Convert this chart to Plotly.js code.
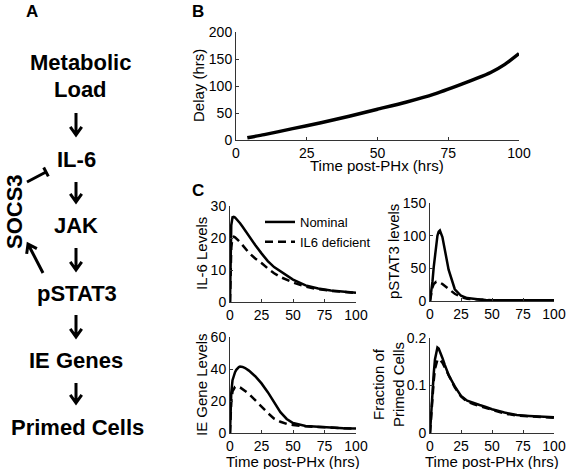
<!DOCTYPE html>
<html><head><meta charset="utf-8">
<script src="https://cdn.plot.ly/plotly-3.0.1.min.js"></script>
<style>
html,body{margin:0;padding:0;background:#fff}
#wrap{position:relative;width:567px;height:469px}
#chart,#overlay{position:absolute;left:0;top:0;width:567px;height:469px}
#overlay{pointer-events:none}
</style>
</head><body><div id="wrap"><div id="chart"></div><div id="overlay"></div></div>
<script>
// ---------- data ----------
const timeB  = [4, 10, 20, 30, 40, 50, 60, 70, 80, 85, 90, 95, 100];
const delayB = [4, 10, 21, 32, 44, 57, 70, 85, 104, 114, 125, 140, 160];

const timeC = [0, 1, 2, 3, 4, 5, 6, 7, 8, 10, 12, 15, 20, 25, 30, 35, 40, 45, 50, 60, 70, 80, 90, 100];
const il6Nominal    = [0, 24, 26.5, 26.6, 26.4, 26.0, 25.6, 25.1, 24.6, 23.5, 22.3, 20.5, 17.8, 15.2, 12.8, 10.9, 9.6, 8.2, 7.0, 5.2, 4.2, 3.6, 3.2, 2.9];
const il6Deficient  = [0, 17, 20.2, 20.4, 20.2, 19.9, 19.5, 19.1, 18.7, 17.8, 16.8, 15.4, 13.6, 12.2, 10.5, 9.0, 7.8, 6.9, 6.1, 4.8, 4.0, 3.5, 3.1, 2.8];
const pstat3Nominal   = [0, 12, 30, 52, 72, 88, 100, 106, 108, 98, 80, 48, 18, 8, 4.5, 3, 2.2, 1.7, 1.4, 1.1, 1, 1, 1, 1];
const pstat3Deficient = [0, 12, 21, 26, 28.5, 29.5, 29.5, 29, 28.3, 26, 23.5, 18.5, 11, 6, 3.5, 2.5, 1.8, 1.5, 1.3, 1.1, 1, 1, 1, 1];
const ieNominal    = [0, 25, 33, 36, 38, 39.5, 40.5, 41.2, 41.5, 41.3, 40.6, 39, 35.5, 31, 25.5, 19, 13, 8.8, 6.2, 4.4, 3.8, 3.3, 3.0, 2.8];
const ieDeficient  = [0, 20, 26, 28, 28.8, 29, 29, 28.8, 28.5, 27.5, 26.3, 24.5, 20.5, 16.3, 12.5, 9, 7, 5.7, 5.0, 4.2, 3.7, 3.3, 3.0, 2.8];
const primedNominal   = [0, 0.05, 0.09, 0.125, 0.155, 0.172, 0.18, 0.178, 0.172, 0.158, 0.143, 0.122, 0.098, 0.078, 0.068, 0.063, 0.059, 0.055, 0.05, 0.043, 0.038, 0.036, 0.034, 0.033];
const primedDeficient = [0, 0.045, 0.08, 0.11, 0.135, 0.148, 0.154, 0.156, 0.154, 0.148, 0.138, 0.12, 0.096, 0.077, 0.066, 0.061, 0.057, 0.053, 0.048, 0.041, 0.037, 0.035, 0.033, 0.032];

const seriesNames = ['Nominal', 'IL6 deficient'];
const xTicks = [0, 25, 50, 75, 100];

// ---------- helpers ----------
const W = 567, H = 469;
const fx = p => p / W, fy = p => 1 - p / H;
const FONT = 'Liberation Sans, Arial, sans-serif';

function axis(extra) {
  return Object.assign({
    showgrid: false, zeroline: false, showline: true, linecolor: '#333', linewidth: 1,
    ticks: 'inside', ticklen: 3, tickcolor: '#333', tickwidth: 1, automargin: false,
    ticklabeloverflow: 'allow',
    tickfont: {family: FONT, size: 14, color: '#000'}, fixedrange: true
  }, extra);
}
function xdom(a, b) { return [fx(a), fx(b)]; }
function ydom(top, bot) { return [fy(bot), fy(top)]; }

// ---------- main chart: panels B and C ----------
const traces = [];
traces.push({x: timeB, y: delayB, xaxis: 'x', yaxis: 'y', mode: 'lines',
  line: {color: '#000', width: 3.5, shape: 'spline', smoothing: 0.6}, showlegend: false});
const panels = [
  [il6Nominal, il6Deficient, 2],
  [pstat3Nominal, pstat3Deficient, 3],
  [ieNominal, ieDeficient, 4],
  [primedNominal, primedDeficient, 5]
];
panels.forEach(([nom, def, k], i) => {
  traces.push({x: timeC, y: nom, xaxis: 'x' + k, yaxis: 'y' + k, mode: 'lines', name: seriesNames[0],
    line: {color: '#000', width: 2.5}, showlegend: i === 0});
  traces.push({x: timeC, y: def, xaxis: 'x' + k, yaxis: 'y' + k, mode: 'lines', name: seriesNames[1],
    line: {color: '#000', width: 2.5, dash: '8px,5px'}, showlegend: i === 0});
});

const layout = {
  width: W, height: H, margin: {l: 0, r: 0, t: 0, b: 0},
  paper_bgcolor: '#fff', plot_bgcolor: 'rgba(0,0,0,0)', font: {family: FONT, color: '#000'},
  xaxis:  axis({domain: xdom(236, 519), range: [0, 100], tickvals: xTicks, anchor: 'y'}),
  yaxis:  axis({domain: ydom(32, 140), range: [0, 200], dtick: 50, anchor: 'x'}),
  xaxis2: axis({domain: xdom(230, 356), range: [0, 100], tickvals: xTicks, anchor: 'y2'}),
  yaxis2: axis({domain: ydom(206, 302), range: [0, 30], dtick: 10, anchor: 'x2'}),
  xaxis3: axis({domain: xdom(430, 554), range: [0, 100], tickvals: xTicks, anchor: 'y3'}),
  yaxis3: axis({domain: ydom(203, 301), range: [0, 150], dtick: 50, anchor: 'x3'}),
  xaxis4: axis({domain: xdom(230, 356), range: [0, 100], tickvals: xTicks, anchor: 'y4'}),
  yaxis4: axis({domain: ydom(337, 433), range: [0, 60], dtick: 20, anchor: 'x4'}),
  xaxis5: axis({domain: xdom(430, 554), range: [0, 100], tickvals: xTicks, anchor: 'y5'}),
  yaxis5: axis({domain: ydom(338, 433), range: [0, 0.2], dtick: 0.1, anchor: 'x5'}),
  showlegend: true,
  legend: {x: fx(260), y: fy(207), xanchor: 'left', yanchor: 'top', bgcolor: 'rgba(0,0,0,0)',
    font: {family: FONT, size: 13}, itemwidth: 30}
};
Plotly.newPlot('chart', traces, layout, {displayModeBar: false, staticPlot: true});

// ---------- overlay: diagram (panel A), panel letters, axis titles ----------
const shapes = [];
function pathOf(pts) { return pts.map(s => (s[0] === 'M' ? 'M' : 'L') + fx(s[1]).toFixed(5) + ',' + fy(s[2]).toFixed(5)).join(' '); }
function arrow(x1, y1, x2, y2) {
  const dx = x1 - x2, dy = y1 - y2, L = Math.hypot(dx, dy);
  const ux = dx / L, uy = dy / L, a = 35 * Math.PI / 180, len = 10;
  const r = s => [ux * Math.cos(s * a) - uy * Math.sin(s * a), ux * Math.sin(s * a) + uy * Math.cos(s * a)];
  const p1 = r(1), p2 = r(-1);
  shapes.push({type: 'path', xref: 'paper', yref: 'paper', line: {color: '#000', width: 3},
    path: pathOf([['M', x1, y1], ['L', x2, y2], ['M', x2 + p1[0] * len, y2 + p1[1] * len], ['L', x2, y2], ['L', x2 + p2[0] * len, y2 + p2[1] * len]])});
}
function inhibit(x1, y1, x2, y2) {
  const dx = x2 - x1, dy = y2 - y1, L = Math.hypot(dx, dy);
  const nx = -dy / L * 5, ny = dx / L * 5;
  shapes.push({type: 'path', xref: 'paper', yref: 'paper', line: {color: '#000', width: 3},
    path: pathOf([['M', x1, y1], ['L', x2, y2], ['M', x2 - nx, y2 - ny], ['L', x2 + nx, y2 + ny]])});
}
[[113, 135], [182, 202], [248, 270], [315, 337], [383, 403]].forEach(([a, b]) => arrow(76, a, 76, b));
inhibit(27, 182, 46, 172);
arrow(43, 273, 28, 244);

const annotations = [];
function txt(text, x, y, size, opts) {
  annotations.push(Object.assign({text: text, x: fx(x), y: fy(y), xref: 'paper', yref: 'paper',
    showarrow: false, xanchor: 'center', yanchor: 'middle', font: {family: FONT, size: size, color: '#000'}}, opts || {}));
}
const diagram = [['Metabolic', 80, 62], ['Load', 80, 90], ['IL-6', 76, 159], ['JAK', 76, 226],
  ['pSTAT3', 77, 293], ['IE Genes', 76, 360], ['Primed Cells', 77, 427]];
diagram.forEach(([t, x, y]) => txt('<b>' + t + '</b>', x, y, 22));
txt('<b>SOCS3</b>', 14, 212, 22, {textangle: -90});
txt('<b>A</b>', 32, 12, 17);
txt('<b>B</b>', 198, 11, 17);
txt('<b>C</b>', 198, 190, 17);
txt('Delay (hrs)', 199, 86, 15, {textangle: -90});
txt('Time post-PHx (hrs)', 377, 165, 15);
txt('IL-6 Levels', 201, 254, 15, {textangle: -90});
txt('pSTAT3 levels', 393, 252, 15, {textangle: -90});
txt('IE Gene Levels', 201, 385, 15, {textangle: -90});
txt('Fraction of<br>Primed Cells', 388, 385, 15, {textangle: -90});
txt('Time post-PHx (hrs)', 293, 461, 15);
txt('Time post-PHx (hrs)', 492, 461, 15);

const overlayLayout = {
  width: W, height: H, margin: {l: 0, r: 0, t: 0, b: 0},
  paper_bgcolor: 'rgba(0,0,0,0)', plot_bgcolor: 'rgba(0,0,0,0)',
  xaxis: {visible: false, fixedrange: true}, yaxis: {visible: false, fixedrange: true},
  showlegend: false, shapes: shapes, annotations: annotations
};
Plotly.newPlot('overlay', [], overlayLayout, {displayModeBar: false, staticPlot: true});
</script></body></html>
